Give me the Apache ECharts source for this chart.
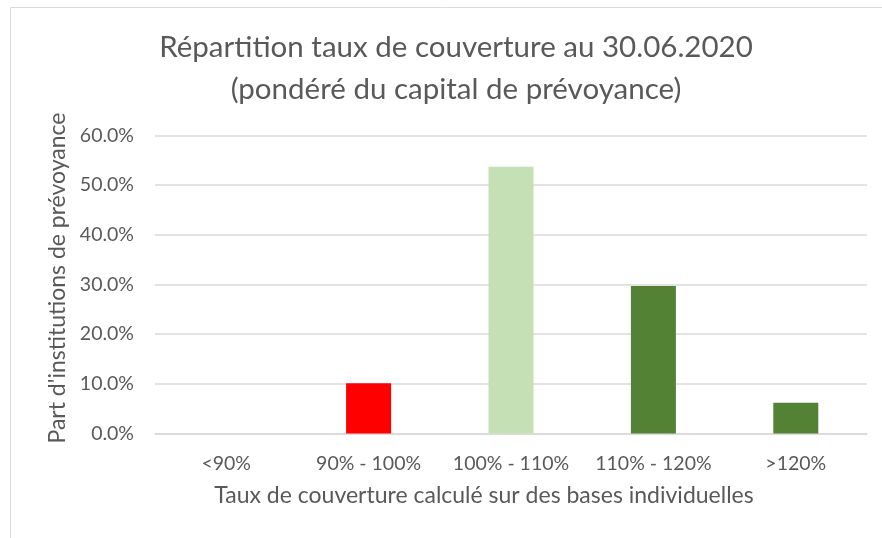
<!DOCTYPE html>
<html lang="fr">
<head>
    <meta charset="UTF-8"/>
    <title>taux de couverture</title>
    <script src="https://cdn.jsdelivr.net/npm/echarts@6/dist/echarts.min.js"></script>
    <style>
        html, body { margin: 0; padding: 0; background: #fff; }
    </style>
</head>
<body>

<div id="main" style="width: 882px;height:538px;"></div>

<script type="text/javascript">
    // données
    var categories = ['<90%', '90% - 100%', '100% - 110%', '110% - 120%', '>120%'];
    var values = [0, 10.1, 53.7, 29.7, 6.2];
    var barColors = ['#FF0000', '#FF0000', '#C5E0B4', '#548235', '#548235'];
    var yTicks = [0, 10, 20, 30, 40, 50, 60];

    var myChart = echarts.init(document.getElementById('main'));
    var font = 'Lato, "Open Sans", sans-serif';

    option = {
        backgroundColor: '#fff',
        animation: false,
        title: {
            text: 'Répartition taux de couverture au 30.06.2020\n(pondéré du capital de prévoyance)',
            left: 451,
            top: 21,
            textAlign: 'center',
            textStyle: {
                color: '#595959',
                fontFamily: font,
                fontWeight: 'normal',
                fontSize: 29.5,
                lineHeight: 42
            }
        },
        graphic: [
            {
                type: 'rect',
                shape: {x: 10.5, y: 7.5, width: 900, height: 600},
                style: {fill: 'none', stroke: '#d9d9d9', lineWidth: 1},
                silent: true
            }
        ],
        grid: {
            left: 155,
            right: 15,
            top: 135.5,
            bottom: 104.5
        },
        xAxis: {
            type: 'category',
            data: categories,
            name: 'Taux de couverture calculé sur des bases individuelles',
            nameLocation: 'middle',
            nameGap: 51,
            nameTextStyle: {color: '#595959', fontFamily: font, fontSize: 23, padding: [0, 54, 0, 0]},
            axisLine: {lineStyle: {color: '#d9d9d9', width: 1.5}},
            axisTick: {show: false},
            axisLabel: {color: '#595959', fontFamily: font, fontSize: 19.5, margin: 20, interval: 0, hideOverlap: false}
        },
        yAxis: {
            type: 'value',
            min: yTicks[0],
            max: yTicks[yTicks.length - 1],
            interval: 10,
            name: "Part d'institutions de prévoyance",
            nameLocation: 'middle',
            nameGap: 85,
            nameTextStyle: {color: '#595959', fontFamily: font, fontSize: 23, padding: [0, 0, 0, 13]},
            axisLine: {show: false},
            axisTick: {show: false},
            splitLine: {lineStyle: {color: '#d9d9d9', width: 1.5}},
            axisLabel: {
                color: '#595959',
                fontFamily: font,
                fontSize: 19.5,
                margin: 21,
                formatter: function (v) { return v.toFixed(1) + '%'; }
            }
        },
        series: [
            {
                type: 'bar',
                barWidth: 45,
                data: values.map(function (v, i) {
                    return {value: v, itemStyle: {color: barColors[i]}};
                })
            }
        ]
    };

    myChart.setOption(option);
</script>
</body>
</html>
